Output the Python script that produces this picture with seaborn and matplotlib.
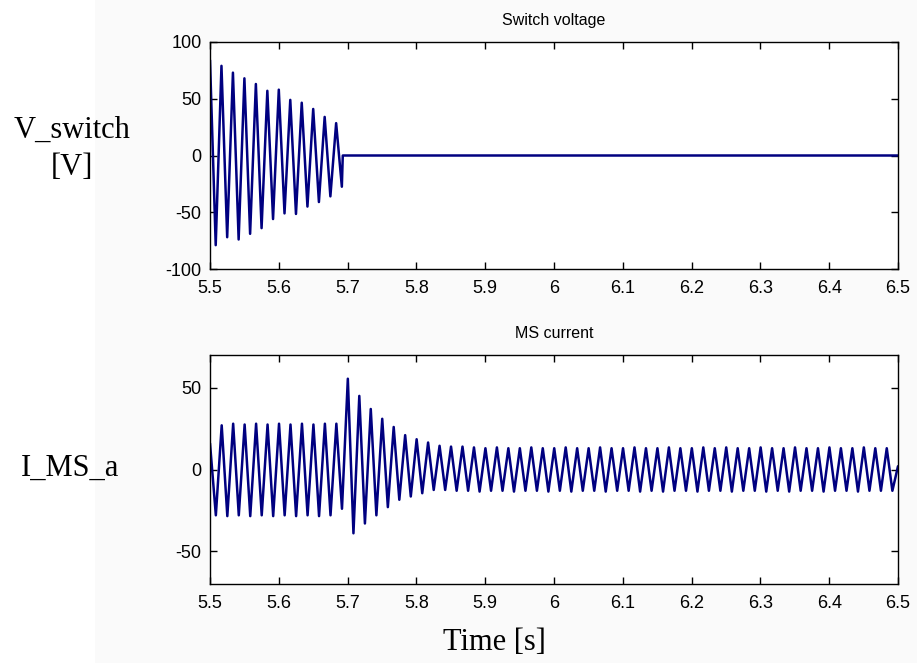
import matplotlib
matplotlib.use("Agg")
import matplotlib.pyplot as plt
from matplotlib.patches import Rectangle
import numpy as np
import pandas as pd
import seaborn as sns

FREQ_HZ = 60.0

# Switch voltage: oscillation dies out at ~5.693 s, then stays at 0
V_PEAK_T0 = 5.5
V_TROUGH_T0 = 5.5083
V_PEAKS = [84, 79, 73, 68, 63, 57, 58, 49, 46.5, 41, 34, 28.5]
V_TROUGHS = [-79, -72, -74, -69, -64, -56, -51, -51.5, -45, -41, -36, -27.5]
V_TAIL_T = [5.693, 6.5]
V_TAIL = [0, 0]

# MS current
I_START = (5.5, 16)
I_END = (6.5, 2)
I_PEAK_T0 = 5.517
I_TROUGH_T0 = 5.5085
I_PEAKS = [
    27, 28, 27.5, 28, 27.5, 28, 27.5, 28, 27.5, 28, 28,
    55.5, 45, 37, 31, 26, 21, 18.5, 16.5, 14.5, 14, 14,
    13.5, 13, 13.5, 13, 13, 13.5, 13, 13, 13.5, 13, 13, 13.5,
    13, 13, 13.5, 13, 13, 13.5, 13, 13, 13.5, 13, 13.5, 13,
    13, 13.5, 13, 13, 13.5, 13, 13, 13.5, 13, 13, 13.5, 13, 13, 13,
]
I_TROUGHS = [
    -28, -28.5, -28, -28.5, -28, -28.5, -28, -28.5, -28, -28.5, -28,
    -24, -39, -33, -28, -23, -18.5, -16.5, -14.5, -12.5, -12.5, -13,
    -13, -13.5, -13, -13, -13.5, -13, -13, -13.5, -13, -13.5, -13, -13,
    -13.5, -13, -13, -13.5, -13, -13.5, -13, -13, -13.5, -13, -13, -13.5,
    -13, -13, -13.5, -13, -13.5, -13, -13, -13.5, -13, -13, -13.5, -13, -13, -13,
]

X_TICKS = [5.5, 5.6, 5.7, 5.8, 5.9, 6.0, 6.1, 6.2, 6.3, 6.4, 6.5]
X_TICK_LABELS = ["5.5", "5.6", "5.7", "5.8", "5.9", "6", "6.1", "6.2", "6.3", "6.4", "6.5"]
V_TICKS = [-100, -50, 0, 50, 100]
I_TICKS = [-50, 0, 50]

LINE_COLOR = "#000080"


def extrema_frame(peak_t0, peaks, trough_t0, troughs):
    t_peaks = peak_t0 + np.arange(len(peaks)) / FREQ_HZ
    t_troughs = trough_t0 + np.arange(len(troughs)) / FREQ_HZ
    df = pd.DataFrame({
        "time": np.concatenate([t_peaks, t_troughs]),
        "value": np.concatenate([peaks, troughs]),
    })
    return df.sort_values("time").reset_index(drop=True)


v_df = extrema_frame(V_PEAK_T0, V_PEAKS, V_TROUGH_T0, V_TROUGHS)
v_df = pd.concat([v_df, pd.DataFrame({"time": V_TAIL_T, "value": V_TAIL})], ignore_index=True)

i_df = extrema_frame(I_PEAK_T0, I_PEAKS, I_TROUGH_T0, I_TROUGHS)
i_df = i_df[i_df["time"] <= 6.5]
i_df = pd.concat([
    pd.DataFrame({"time": [I_START[0]], "value": [I_START[1]]}),
    i_df,
    pd.DataFrame({"time": [I_END[0]], "value": [I_END[1]]}),
], ignore_index=True)

sns.set_theme(style="ticks")
plt.rcParams["font.family"] = ["Liberation Sans", "DejaVu Sans"]
plt.rcParams["text.color"] = "black"
plt.rcParams["axes.labelcolor"] = "black"
plt.rcParams["axes.titlecolor"] = "black"

W, H = 917, 663
fig = plt.figure(figsize=(W / 100, H / 100), dpi=100)
fig.patch.set_facecolor("#fafafa")
fig.add_artist(Rectangle((0, 0), 95 / W, 1, transform=fig.transFigure,
                         facecolor="white", edgecolor="none", zorder=-1))

ax1 = fig.add_axes([210 / W, 1 - 269 / H, 688 / W, 227 / H])
ax2 = fig.add_axes([210 / W, 1 - 584 / H, 688 / W, 229 / H])

sns.lineplot(data=v_df, x="time", y="value", ax=ax1, color=LINE_COLOR,
             linewidth=1.8, sort=False, estimator=None)
sns.lineplot(data=i_df, x="time", y="value", ax=ax2, color=LINE_COLOR,
             linewidth=1.8, sort=False, estimator=None)

for ax, yticks, ylim, title in [
    (ax1, V_TICKS, (-100, 100), "Switch voltage"),
    (ax2, I_TICKS, (-70, 70), "MS current"),
]:
    ax.set_facecolor("white")
    ax.set_xlim(5.5, 6.5)
    ax.set_ylim(*ylim)
    ax.set_xticks(X_TICKS)
    ax.set_xticklabels(X_TICK_LABELS)
    ax.set_yticks(yticks)
    ax.set_yticklabels([str(v) for v in yticks])
    ax.set_xlabel("")
    ax.set_ylabel("")
    ax.set_title(title, fontsize=11.5, pad=12, color="black")
    ax.tick_params(direction="in", length=5, width=1, colors="black",
                   labelsize=13, top=True, right=True)
    ax.tick_params(axis="x", pad=8)
    ax.tick_params(axis="y", pad=6)
    for spine in ax.spines.values():
        spine.set_visible(True)
        spine.set_color("black")
        spine.set_linewidth(1.0)

serif = ["Liberation Serif", "DejaVu Serif"]
fig.text(72 / W, 1 - 149 / H, "V_switch\n[V]", family=serif, fontsize=22,
         ha="center", va="center", multialignment="center", linespacing=1.35,
         color="black")
fig.text(70 / W, 1 - 468 / H, "I_MS_a", family=serif, fontsize=22,
         ha="center", va="center", color="black")
fig.text(494 / W, 1 - 642 / H, "Time [s]", family=serif, fontsize=22,
         ha="center", va="center", color="black")

fig.savefig("out.png", dpi=100, facecolor=fig.get_facecolor())
